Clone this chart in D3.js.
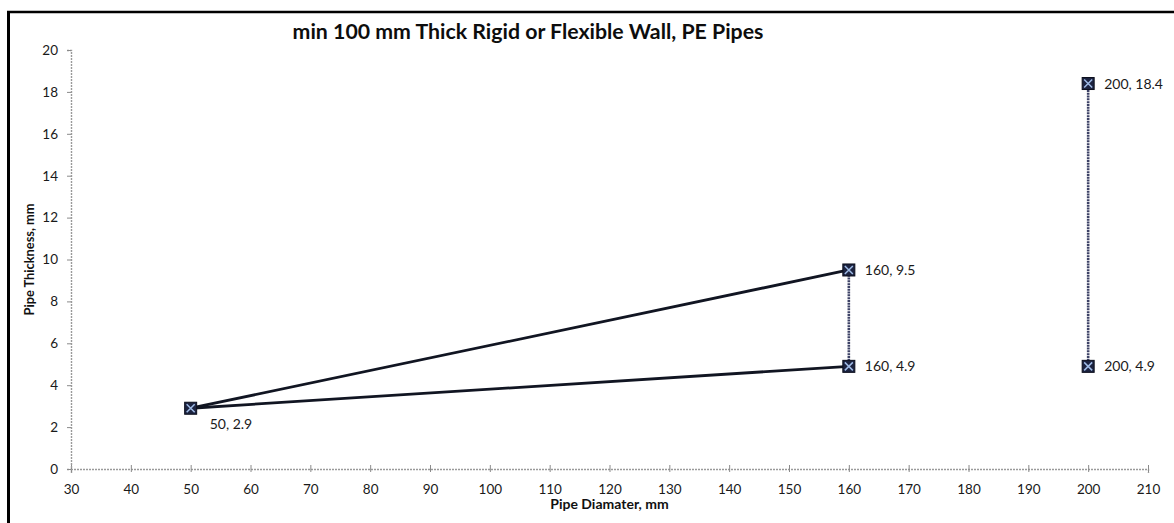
<!DOCTYPE html>
<html><head><meta charset="utf-8">
<script src="https://cdn.jsdelivr.net/npm/d3@7"></script>
<style>
body{margin:0;background:#fff;}
svg{display:block;font-family:Lato,"Open Sans",sans-serif;}
</style></head>
<body><svg id="c" width="1174" height="523"></svg>
<script>
const title = "min 100 mm Thick Rigid or Flexible Wall, PE Pipes";
const xLabel = "Pipe Diamater, mm";
const yLabel = "Pipe Thickness, mm";
const xTicks = [30,40,50,60,70,80,90,100,110,120,130,140,150,160,170,180,190,200,210];
const yTicks = [0,2,4,6,8,10,12,14,16,18,20];
// series: [x, y] points
const seriesUpper = [[50,2.9],[160,9.5]];
const seriesLower = [[50,2.9],[160,4.9]];
const seriesV160 = [[160,4.9],[160,9.5]];
const seriesV200 = [[200,4.9],[200,18.4]];
const labelPoints = [[50,2.9],[160,9.5],[160,4.9],[200,18.4],[200,4.9]];

const svg = d3.select("#c");
const m = {l:71, r:1174-1148, t:50, b:523-469};
const W = 1174, H = 523;
const x = d3.scaleLinear().domain([30,210]).range([m.l, W-m.r]);
const y = d3.scaleLinear().domain([0,20]).range([H-m.b, m.t]);

// frame
svg.append("line").attr("x1",7).attr("x2",1174).attr("y1",12).attr("y2",12).attr("stroke","#000").attr("stroke-width",2.6);
svg.append("line").attr("x1",8.5).attr("x2",8.5).attr("y1",11).attr("y2",523).attr("stroke","#000").attr("stroke-width",3);

// title
svg.append("text").attr("x",528).attr("y",39).attr("text-anchor","middle")
  .attr("font-size",21.3).attr("font-weight","bold").attr("fill","#0d0d0d").text(title);

// axes
const xAxis = d3.axisBottom(x).tickValues(xTicks).tickSize(4).tickPadding(11).tickFormat(d3.format("d"));
const yAxis = d3.axisLeft(y).tickValues(yTicks).tickSize(4).tickPadding(9).tickFormat(d3.format("d"));
const gx = svg.append("g").attr("transform",`translate(0,${y(0)})`).call(xAxis);
const gy = svg.append("g").attr("transform",`translate(${x(30)},0)`).call(yAxis);
[gx,gy].forEach(g=>{
  g.select(".domain").attr("stroke","#9a9a9a").attr("stroke-width",1.4).attr("stroke-dasharray","2,1");
  g.selectAll(".tick line").attr("stroke","#8a8a8a");
  g.selectAll(".tick text").attr("font-size",13.5).attr("fill","#1a1a1a").attr("font-family","Lato,sans-serif");
});
gx.selectAll(".tick line").attr("y2",-4).attr("y1",3);

svg.append("text").attr("x",(x(30)+x(210))/2).attr("y",509).attr("text-anchor","middle")
  .attr("font-size",14).attr("font-weight","bold").attr("fill","#111").text(xLabel);
svg.append("text").attr("transform",`translate(34,${(y(0)+y(20))/2}) rotate(-90)`).attr("text-anchor","middle")
  .attr("font-size",12.8).attr("font-weight","bold").attr("fill","#111").text(yLabel);

const line = d3.line().x(d=>x(d[0])).y(d=>y(d[1]));
// vertical dotted lines
[seriesV160, seriesV200].forEach(s=>{
  svg.append("path").datum(s).attr("d",line).attr("fill","none")
    .attr("stroke","#3d4266").attr("stroke-width",2.6).attr("stroke-dasharray","2,0.8");
});
[seriesUpper, seriesLower].forEach(s=>{
  svg.append("path").datum(s).attr("d",line).attr("fill","none")
    .attr("stroke","#111522").attr("stroke-width",2.8);
});

// markers
const mk = svg.append("g").selectAll("g").data(labelPoints).join("g")
  .attr("transform",d=>`translate(${x(d[0])},${y(d[1])})`);
mk.append("rect").attr("x",-6).attr("y",-6).attr("width",12).attr("height",12)
  .attr("fill","#1c2340").attr("stroke","#0b0e1c").attr("stroke-width",1);
mk.append("path").attr("d","M-4,-4L4,4M-4,4L4,-4").attr("stroke","#9fbbe6").attr("stroke-width",1.5);

// labels
svg.append("g").selectAll("text").data(labelPoints).join("text")
  .attr("x",d=> d[0]===50 ? x(d[0])+19 : x(d[0])+16)
  .attr("y",d=> d[0]===50 ? y(d[1])+21 : y(d[1])+5)
  .attr("font-size",14).attr("fill","#1a1a1a")
  .text(d=>`${d[0]}, ${d[1]}`);
</script></body></html>
